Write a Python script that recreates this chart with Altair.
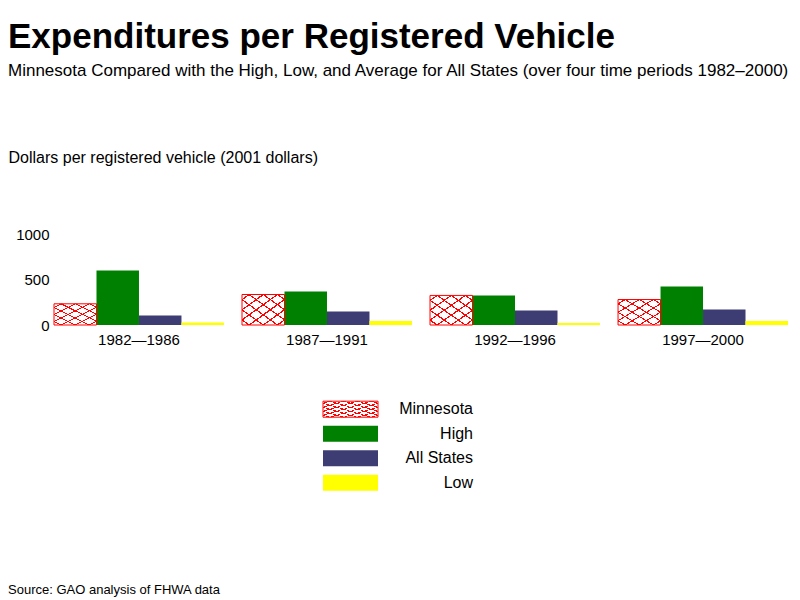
import altair as alt
import pandas as pd

periods = ["1982—1986", "1987—1991", "1992—1996", "1997—2000"]
series = ["Minnesota", "High", "All States", "Low"]
minnesota = [233, 335, 325, 280]
high = [600, 368, 325, 423]
all_states = [105, 148, 159, 170]
low = [28, 44, 22, 44]
colors = ["#FFFFFF", "#008000", "#3D3D73", "#FFFF00"]
title_text = "Expenditures per Registered Vehicle"
subtitle_text = "Minnesota Compared with the High, Low, and Average for All States (over four time periods 1982–2000)"
y_title = "Dollars per registered vehicle  (2001 dollars)"
source_note = "Source: GAO analysis of FHWA data"
FONT = "Liberation Sans"

rows = []
for name, vals in zip(series, [minnesota, high, all_states, low]):
    for p, v in zip(periods, vals):
        rows.append({"period": p, "series": name, "value": v})
df = pd.DataFrame(rows)
leg_df = pd.DataFrame({"series": series})


def hatch(x1, y1, x2, y2, n=6, w=0.012):
    clear = "rgba(255,0,0,0)"
    stops = [alt.GradientStop(offset=0, color=clear)]
    for k in range(n):
        c = (k + 0.5) / n
        stops += [
            alt.GradientStop(offset=c - w, color=clear),
            alt.GradientStop(offset=c - w, color="#FF0000"),
            alt.GradientStop(offset=c + w, color="#FF0000"),
            alt.GradientStop(offset=c + w, color=clear),
        ]
    stops.append(alt.GradientStop(offset=1, color=clear))
    return alt.LinearGradient(gradient="linear", stops=stops, x1=x1, y1=y1, x2=x2, y2=y2)


color_enc = alt.Color("series:N", sort=series,
                      scale=alt.Scale(domain=series, range=colors), legend=None)
is_mn = alt.datum.series == "Minnesota"

base = alt.Chart(df).encode(
    x=alt.X("period:N", sort=periods,
            scale=alt.Scale(domain=periods, paddingInner=0.096, paddingOuter=0),
            axis=alt.Axis(title=None, labelAngle=0, domain=False, ticks=False,
                          labelFontSize=15, labelPadding=7, labelColor="black",
                          labelFont=FONT)),
    xOffset=alt.XOffset("series:N", sort=series,
                        scale=alt.Scale(domain=series, paddingInner=0, paddingOuter=0)),
    y=alt.Y("value:Q", scale=alt.Scale(domain=[0, 1000], nice=False),
            axis=alt.Axis(values=[0, 500, 1000], format="d", title=y_title, titleAngle=0,
                          titleAlign="left", titleX=-46, titleY=-72,
                          titleBaseline="alphabetic", titleFontWeight="normal",
                          titleFontSize=16, titleColor="black", titleFont=FONT,
                          grid=False, domain=False, ticks=False, labelPadding=5,
                          labelFontSize=15, labelColor="black", labelFont=FONT)),
)
bars = base.mark_bar().encode(color=color_enc)
h1 = base.transform_filter(is_mn).mark_bar(fill=hatch(0, 0, 1, 1))
h2 = base.transform_filter(is_mn).mark_bar(fill=hatch(1, 0, 0, 1),
                                           stroke="#FF0000", strokeWidth=1)
main = alt.layer(bars, h1, h2).properties(width=734, height=91)

SX1, SX2, TX = 269, 324, 419
lbase = alt.Chart(leg_df).encode(
    y=alt.Y("series:N", sort=series,
            scale=alt.Scale(domain=series, paddingInner=0.347, paddingOuter=0.17),
            axis=None)
)
sw = lbase.mark_rect().encode(x=alt.value(SX1), x2=alt.value(SX2), color=color_enc)
sw1 = lbase.transform_filter(is_mn).mark_rect(fill=hatch(0, 0, 1, 1, n=8)).encode(
    x=alt.value(SX1), x2=alt.value(SX2))
sw2 = lbase.transform_filter(is_mn).mark_rect(
    fill=hatch(1, 0, 0, 1, n=8), stroke="#FF0000", strokeWidth=1).encode(
    x=alt.value(SX1), x2=alt.value(SX2))
labels = lbase.mark_text(align="right", baseline="middle", fontSize=16,
                         font=FONT, color="black").encode(
    x=alt.value(TX), text="series:N")
legend = alt.layer(sw, sw1, sw2, labels).properties(
    width=734, height=98,
    title=alt.TitleParams(source_note, orient="bottom", anchor="start",
                          fontSize=13, fontWeight="normal", font=FONT,
                          color="black", offset=89, dx=-46))

chart = alt.vconcat(main, legend, spacing=50).properties(
    padding={"left": 0, "top": 12, "right": 0, "bottom": 0},
    title=alt.TitleParams(title_text, subtitle=subtitle_text, anchor="start",
                          fontSize=35, fontWeight="bold", font=FONT, color="black",
                          subtitleFontSize=17, subtitleFont=FONT,
                          subtitleColor="black", subtitlePadding=8, offset=70),
).configure_view(stroke=None)

chart.save("out.html", embed_options={"renderer": "svg", "actions": False})
